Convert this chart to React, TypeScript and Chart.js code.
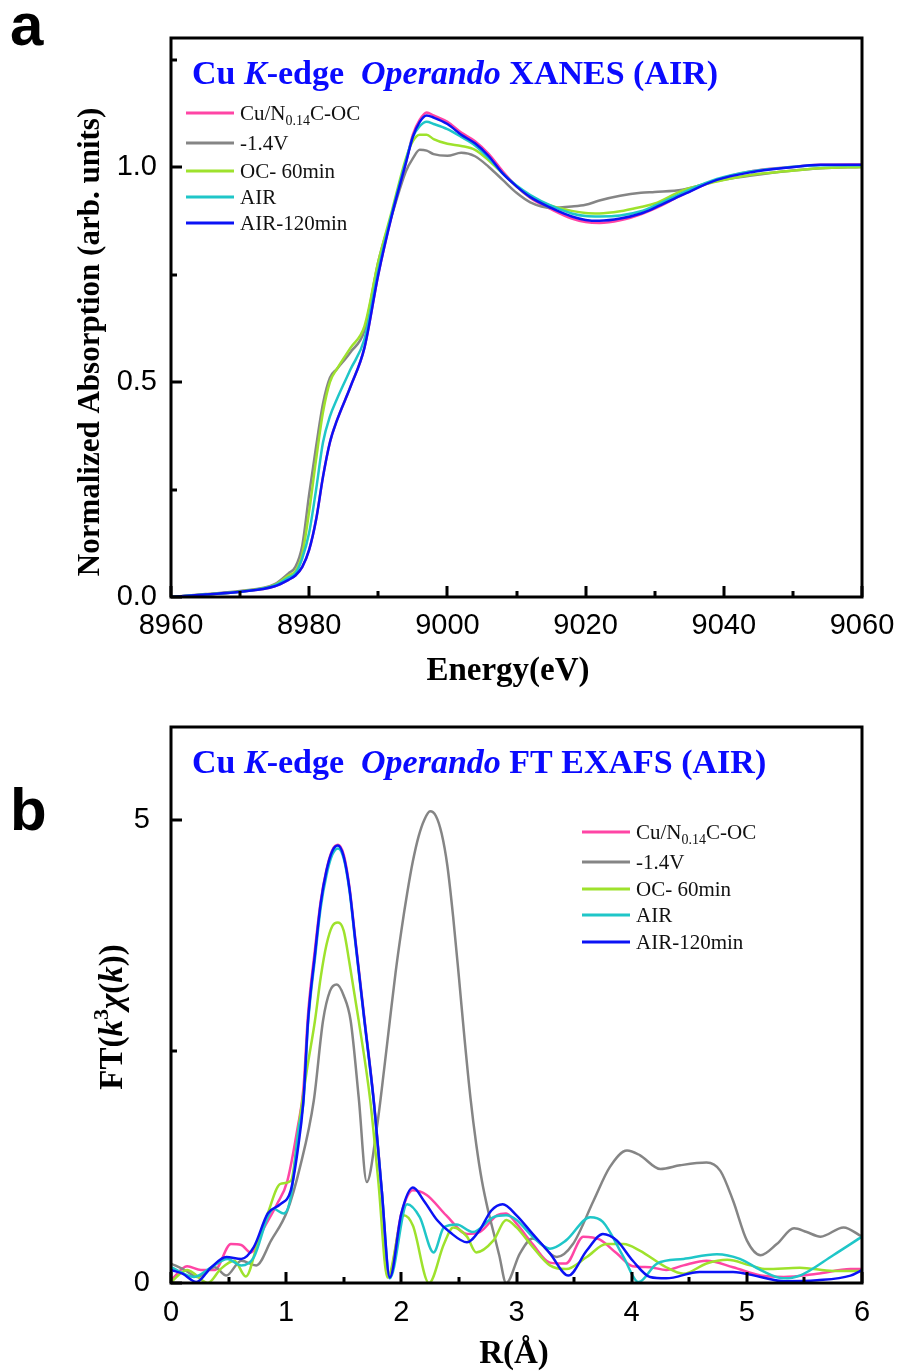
import React, { useEffect, useRef } from "react";
import { Chart, registerables } from "chart.js";

Chart.register(...registerables);

const SERIF = "'Liberation Serif', 'Times New Roman', serif";
const SANS = "'Liberation Sans', Arial, sans-serif";

const seriesNames = ["Cu/N0.14C-OC", "-1.4V", "OC- 60min", "AIR", "AIR-120min"];
const seriesColors = ["#ff45a5", "#858585", "#9ee22c", "#1fc6c8", "#0b12f5"];
const seriesOrder = [4, 3, 2, 1, 0];

// ---------- (a) XANES ----------
const xanesEnergy = [8960, 8965, 8970, 8975, 8977, 8978, 8979, 8980, 8981, 8982, 8983, 8984, 8986, 8988, 8990, 8992, 8994, 8995, 8996, 8997, 8998, 9000, 9002, 9004, 9006, 9008, 9010, 9012, 9015, 9018, 9020, 9022, 9025, 9028, 9030, 9034, 9039, 9044, 9049, 9054, 9060];
const xanesCuN = [0.0, 0.006, 0.012, 0.025, 0.04, 0.05, 0.07, 0.11, 0.18, 0.28, 0.36, 0.41, 0.49, 0.58, 0.75, 0.89, 1.01, 1.075, 1.11, 1.127, 1.12, 1.105, 1.08, 1.06, 1.03, 0.99, 0.955, 0.928, 0.902, 0.88, 0.872, 0.87, 0.876, 0.89, 0.903, 0.935, 0.97, 0.99, 0.999, 1.005, 1.006];
const xanesNeg14V = [0.0, 0.007, 0.014, 0.03, 0.055, 0.07, 0.12, 0.24, 0.35, 0.45, 0.51, 0.53, 0.57, 0.62, 0.78, 0.89, 0.99, 1.02, 1.04, 1.038, 1.03, 1.026, 1.033, 1.025, 1.0, 0.97, 0.94, 0.918, 0.905, 0.908, 0.912, 0.922, 0.933, 0.94, 0.942, 0.947, 0.968, 0.98, 0.99, 0.997, 1.0];
const xanesOC60 = [0.0, 0.006, 0.013, 0.028, 0.05, 0.06, 0.1, 0.2, 0.32, 0.43, 0.5, 0.53, 0.58, 0.63, 0.78, 0.9, 1.02, 1.06, 1.075, 1.075, 1.065, 1.054, 1.049, 1.04, 1.015, 0.985, 0.955, 0.93, 0.91, 0.898, 0.893, 0.892, 0.897, 0.907, 0.915, 0.945, 0.966, 0.982, 0.99, 0.997, 1.0];
const xanesAIR = [0.0, 0.006, 0.012, 0.027, 0.045, 0.055, 0.09, 0.15, 0.25, 0.36, 0.42, 0.46, 0.53, 0.6, 0.76, 0.895, 1.015, 1.07, 1.095, 1.105, 1.1, 1.088, 1.07, 1.05, 1.02, 0.985, 0.957, 0.935, 0.91, 0.892, 0.886, 0.885, 0.887, 0.897, 0.91, 0.94, 0.972, 0.99, 0.999, 1.004, 1.004];
const xanesAIR120 = [0.0, 0.006, 0.012, 0.025, 0.04, 0.05, 0.07, 0.11, 0.18, 0.28, 0.36, 0.41, 0.49, 0.58, 0.75, 0.89, 1.01, 1.07, 1.105, 1.12, 1.115, 1.1, 1.075, 1.055, 1.025, 0.985, 0.955, 0.93, 0.905, 0.885, 0.877, 0.875, 0.88, 0.892, 0.905, 0.935, 0.97, 0.988, 0.998, 1.005, 1.005];
const xanesXTicks = [8960, 8980, 9000, 9020, 9040, 9060];
const xanesXMinor = [8970, 8990, 9010, 9030, 9050];
const xanesYTicks = [0, 0.5, 1.0];
const xanesYMinor = [0.25, 0.75, 1.25];

// ---------- (b) FT-EXAFS ----------
const ftRCuN = [0, 0.14, 0.26, 0.38, 0.52, 0.61, 0.69, 0.81, 0.92, 1.01, 1.1, 1.15, 1.19, 1.25, 1.3, 1.35, 1.4, 1.45, 1.5, 1.55, 1.6, 1.68, 1.76, 1.83, 1.89, 2.0, 2.1, 2.22, 2.39, 2.57, 2.68, 2.83, 2.91, 3.0, 3.14, 3.29, 3.43, 3.58, 3.72, 3.87, 4.01, 4.16, 4.3, 4.45, 4.65, 4.88, 5.12, 5.32, 5.61, 5.9, 6.0];
const ftCuN = [0.03, 0.18, 0.14, 0.14, 0.42, 0.41, 0.33, 0.6, 0.85, 1.1, 1.68, 2.1, 2.9, 3.6, 4.12, 4.46, 4.67, 4.73, 4.62, 4.27, 3.72, 2.85, 1.98, 1.0, 0.06, 0.75, 1.0, 0.95, 0.73, 0.53, 0.55, 0.73, 0.75, 0.64, 0.42, 0.22, 0.21, 0.5, 0.47, 0.32, 0.18, 0.17, 0.14, 0.19, 0.24, 0.17, 0.08, 0.065, 0.1, 0.15, 0.15];
const ftRNeg14V = [0, 0.12, 0.23, 0.38, 0.48, 0.61, 0.74, 0.87, 1.01, 1.12, 1.24, 1.32, 1.38, 1.44, 1.5, 1.56, 1.63, 1.7, 1.79, 1.85, 1.9, 1.95, 2.0, 2.05, 2.1, 2.15, 2.2, 2.25, 2.3, 2.35, 2.4, 2.45, 2.5, 2.55, 2.6, 2.65, 2.7, 2.75, 2.8, 2.85, 2.91, 3.03, 3.14, 3.35, 3.49, 3.67, 3.81, 3.96, 4.07, 4.25, 4.42, 4.65, 4.77, 4.88, 5.0, 5.12, 5.26, 5.41, 5.52, 5.64, 5.84, 6.0];
const ftNeg14V = [0.21, 0.14, 0.065, 0.17, 0.08, 0.24, 0.19, 0.46, 0.78, 1.25, 1.97, 2.83, 3.15, 3.22, 3.1, 2.83, 2.0, 1.09, 1.7, 2.3, 2.83, 3.35, 3.8, 4.2, 4.55, 4.82, 5.0, 5.09, 5.04, 4.85, 4.5, 3.95, 3.3, 2.62, 2.0, 1.5, 1.1, 0.8, 0.55, 0.3, 0.0, 0.32, 0.48, 0.28, 0.42, 0.89, 1.25, 1.43, 1.38, 1.23, 1.27, 1.3, 1.21, 0.89, 0.46, 0.3, 0.42, 0.59, 0.55, 0.5, 0.6, 0.5];
const ftROC60 = [0, 0.14, 0.32, 0.43, 0.55, 0.65, 0.75, 0.84, 0.95, 1.04, 1.12, 1.18, 1.25, 1.3, 1.35, 1.4, 1.45, 1.5, 1.55, 1.63, 1.73, 1.8, 1.88, 2.02, 2.1, 2.24, 2.37, 2.45, 2.57, 2.65, 2.8, 2.91, 3.0, 3.14, 3.29, 3.43, 3.61, 3.78, 3.93, 4.07, 4.3, 4.45, 4.65, 4.83, 5.03, 5.17, 5.46, 5.75, 6.0];
const ftOC60 = [0.01, 0.14, 0.0, 0.15, 0.24, 0.07, 0.42, 0.75, 1.07, 1.1, 1.79, 2.3, 2.83, 3.3, 3.65, 3.85, 3.89, 3.8, 3.45, 2.83, 1.97, 1.1, 0.06, 0.73, 0.62, 0.0, 0.42, 0.6, 0.5, 0.33, 0.46, 0.68, 0.6, 0.39, 0.19, 0.15, 0.28, 0.42, 0.42, 0.35, 0.17, 0.1, 0.21, 0.25, 0.19, 0.15, 0.165, 0.13, 0.13];
const ftRAIR = [0, 0.2, 0.35, 0.49, 0.61, 0.72, 0.84, 0.89, 0.98, 1.04, 1.11, 1.15, 1.19, 1.25, 1.3, 1.35, 1.4, 1.45, 1.5, 1.55, 1.6, 1.68, 1.76, 1.83, 1.9, 2.05, 2.16, 2.28, 2.37, 2.48, 2.62, 2.8, 2.91, 3.0, 3.14, 3.29, 3.43, 3.64, 3.75, 3.93, 4.06, 4.22, 4.45, 4.74, 4.94, 5.12, 5.32, 5.46, 5.75, 6.0];
const ftAIR = [0.17, 0.065, 0.17, 0.26, 0.19, 0.28, 0.71, 0.8, 0.75, 0.93, 1.68, 1.95, 2.8, 3.5, 4.05, 4.4, 4.62, 4.69, 4.58, 4.23, 3.68, 2.82, 1.96, 1.0, 0.05, 0.85, 0.71, 0.33, 0.6, 0.63, 0.55, 0.71, 0.73, 0.68, 0.5, 0.37, 0.46, 0.71, 0.66, 0.28, 0.01, 0.21, 0.26, 0.31, 0.26, 0.14, 0.05, 0.08, 0.3, 0.5];
const ftRAIR120 = [0, 0.1, 0.22, 0.35, 0.48, 0.61, 0.72, 0.84, 0.95, 1.04, 1.1, 1.15, 1.19, 1.25, 1.3, 1.35, 1.4, 1.45, 1.5, 1.55, 1.6, 1.68, 1.76, 1.83, 1.9, 2.0, 2.1, 2.2, 2.31, 2.42, 2.57, 2.68, 2.78, 2.88, 3.0, 3.14, 3.29, 3.45, 3.61, 3.75, 3.87, 4.01, 4.16, 4.3, 4.59, 4.88, 5.12, 5.32, 5.61, 5.9, 6.0];
const ftAIR120 = [0.14, 0.1, 0.01, 0.17, 0.28, 0.26, 0.39, 0.75, 0.85, 1.0, 1.43, 1.97, 2.83, 3.55, 4.1, 4.45, 4.66, 4.72, 4.6, 4.25, 3.7, 2.83, 1.97, 1.0, 0.06, 0.75, 1.03, 0.88, 0.68, 0.55, 0.44, 0.57, 0.78, 0.85, 0.73, 0.53, 0.32, 0.08, 0.35, 0.53, 0.46, 0.24, 0.065, 0.05, 0.12, 0.12, 0.065, 0.02, 0.03, 0.08, 0.14];
const ftXTicks = [0, 1, 2, 3, 4, 5, 6];
const ftXMinor = [0.5, 1.5, 2.5, 3.5, 4.5, 5.5];
const ftYTicks = [0, 5];
const ftYMinor = [2.5];

type Seg = { t: string; f: string; dy?: number };

const B34 = `bold 34px ${SERIF}`;
const BI34 = `italic bold 34px ${SERIF}`;
const B33 = `bold 33px ${SERIF}`;
const BI33 = `italic bold 33px ${SERIF}`;
const B31 = `bold 31px ${SERIF}`;
const R21 = `21px ${SERIF}`;
const R14 = `14px ${SERIF}`;

function segsWidth(ctx: CanvasRenderingContext2D, segs: Seg[]) {
  let w = 0;
  for (const s of segs) {
    ctx.font = s.f;
    w += ctx.measureText(s.t).width;
  }
  return w;
}

function drawSegs(ctx: CanvasRenderingContext2D, segs: Seg[], x: number, y: number) {
  let cx = x;
  for (const s of segs) {
    ctx.font = s.f;
    ctx.fillText(s.t, cx, y + (s.dy || 0));
    cx += ctx.measureText(s.t).width;
  }
}

function legendSegs(name: string): Seg[] {
  if (name.startsWith("Cu/N")) {
    return [
      { t: "Cu/N", f: R21 },
      { t: "0.14", f: R14, dy: 5 },
      { t: "C-OC", f: R21 },
    ];
  }
  return [{ t: name, f: R21 }];
}

type DecorOpts = {
  letter: string;
  letterY: number;
  title: Seg[];
  titleX: number;
  titleY: number;
  legX: number;
  legRows: number[];
  xTitle: Seg[];
  xTitleCx: number;
  xTitleY: number;
  yTitle: Seg[];
  yTitleCx: number;
  yTitleCy: number;
  xMajor: number[];
  xMinor: number[];
  yMajor: number[];
  yMinor: number[];
};

function decorPlugin(o: DecorOpts) {
  return {
    id: "decor",
    afterDraw(chart: any) {
      const ctx: CanvasRenderingContext2D = chart.ctx;
      const a = chart.chartArea;
      const xs = chart.scales.x;
      const ys = chart.scales.y;
      ctx.save();
      ctx.strokeStyle = "#000";
      ctx.lineWidth = 3;
      ctx.strokeRect(a.left, a.top, a.right - a.left, a.bottom - a.top);
      ctx.beginPath();
      const tx = (v: number, len: number) => {
        const p = Math.round(xs.getPixelForValue(v));
        ctx.moveTo(p, a.bottom);
        ctx.lineTo(p, a.bottom - len);
      };
      const ty = (v: number, len: number) => {
        const p = Math.round(ys.getPixelForValue(v));
        ctx.moveTo(a.left, p);
        ctx.lineTo(a.left + len, p);
      };
      o.xMajor.forEach((v) => tx(v, 11));
      o.xMinor.forEach((v) => tx(v, 6));
      o.yMajor.forEach((v) => ty(v, 11));
      o.yMinor.forEach((v) => ty(v, 6));
      ctx.stroke();

      // panel letter
      ctx.fillStyle = "#000";
      ctx.textBaseline = "alphabetic";
      ctx.textAlign = "left";
      ctx.font = `bold 60px ${SANS}`;
      ctx.fillText(o.letter, 10, o.letterY);

      // title
      ctx.fillStyle = "#0a0aff";
      drawSegs(ctx, o.title, o.titleX, o.titleY);

      // legend
      chart.data.datasets.forEach((ds: any, i: number) => {
        const y = o.legRows[i];
        ctx.strokeStyle = ds.borderColor;
        ctx.lineWidth = 3;
        ctx.beginPath();
        ctx.moveTo(o.legX, y);
        ctx.lineTo(o.legX + 48, y);
        ctx.stroke();
        ctx.fillStyle = "#111";
        drawSegs(ctx, legendSegs(ds.label), o.legX + 54, y + 7);
      });

      // axis titles
      ctx.fillStyle = "#000";
      const xw = segsWidth(ctx, o.xTitle);
      drawSegs(ctx, o.xTitle, o.xTitleCx - xw / 2, o.xTitleY);
      ctx.save();
      ctx.translate(o.yTitleCx, o.yTitleCy);
      ctx.rotate(-Math.PI / 2);
      ctx.textBaseline = "middle";
      const yw = segsWidth(ctx, o.yTitle);
      drawSegs(ctx, o.yTitle, -yw / 2, 0);
      ctx.restore();
      ctx.restore();
    },
  };
}

function makeDatasets(xsList: number[][], ysList: number[][], width: number) {
  return ysList.map((ys, i) => ({
    label: seriesNames[i],
    data: ys.map((y, j) => ({ x: xsList[i][j], y })),
    borderColor: seriesColors[i],
    backgroundColor: seriesColors[i],
    borderWidth: width,
    pointRadius: 0,
    cubicInterpolationMode: "monotone" as const,
    fill: false,
    order: seriesOrder[i],
  }));
}

function baseScales(opts: {
  xMin: number; xMax: number; xStep: number; xFmt: (v: number) => string;
  yMin: number; yMax: number; yTicks: number[]; yFmt: (v: number) => string;
  yWidth: number; xHeight: number; yPad: number; xPad: number;
}) {
  return {
    x: {
      type: "linear",
      min: opts.xMin,
      max: opts.xMax,
      grid: { display: false },
      border: { display: false },
      ticks: {
        stepSize: opts.xStep,
        autoSkip: false,
        maxRotation: 0,
        padding: opts.xPad,
        color: "#000",
        font: { family: SANS, size: 29 },
        callback: (v: any) => opts.xFmt(Number(v)),
      },
      afterFit: (s: any) => {
        s.height = opts.xHeight;
      },
    },
    y: {
      type: "linear",
      min: opts.yMin,
      max: opts.yMax,
      grid: { display: false },
      border: { display: false },
      afterBuildTicks: (s: any) => {
        s.ticks = opts.yTicks.map((v) => ({ value: v }));
      },
      ticks: {
        autoSkip: false,
        padding: opts.yPad,
        color: "#000",
        font: { family: SANS, size: 29 },
        callback: (v: any) => opts.yFmt(Number(v)),
      },
      afterFit: (s: any) => {
        s.width = opts.yWidth;
      },
    },
  };
}

function ChartCanvas({ config, width, height, top }: { config: any; width: number; height: number; top: number }) {
  const ref = useRef<HTMLCanvasElement | null>(null);
  useEffect(() => {
    if (!ref.current) return;
    const chart = new Chart(ref.current, config);
    return () => chart.destroy();
  }, [config]);
  return (
    <canvas
      ref={ref}
      width={width}
      height={height}
      style={{ position: "absolute", left: 0, top, width, height, display: "block" }}
    />
  );
}

const configA = {
  type: "line",
  data: {
    datasets: makeDatasets(
      [xanesEnergy, xanesEnergy, xanesEnergy, xanesEnergy, xanesEnergy],
      [xanesCuN, xanesNeg14V, xanesOC60, xanesAIR, xanesAIR120],
      2.5
    ),
  },
  options: {
    responsive: false,
    animation: false,
    devicePixelRatio: 1,
    layout: { padding: { left: 0, top: 38, right: 40, bottom: 0 } },
    plugins: { legend: { display: false }, tooltip: { enabled: false } },
    scales: baseScales({
      xMin: 8960, xMax: 9060, xStep: 20, xFmt: (v) => String(Math.round(v)),
      yMin: 0, yMax: 1.3, yTicks: xanesYTicks, yFmt: (v) => v.toFixed(1),
      yWidth: 171, xHeight: 93, yPad: 6, xPad: 4,
    }),
  },
  plugins: [
    decorPlugin({
      letter: "a",
      letterY: 45,
      title: [
        { t: "Cu ", f: B34 },
        { t: "K", f: BI34 },
        { t: "-edge  ", f: B34 },
        { t: "Operando", f: BI34 },
        { t: " XANES (AIR)", f: B34 },
      ],
      titleX: 192,
      titleY: 84,
      legX: 186,
      legRows: [113, 143, 171, 197, 223],
      xTitle: [{ t: "Energy(eV)", f: B33 }],
      xTitleCx: 508,
      xTitleY: 680,
      yTitle: [{ t: "Normalized Absorption (arb. units)", f: B31 }],
      yTitleCx: 91,
      yTitleCy: 342,
      xMajor: xanesXTicks,
      xMinor: xanesXMinor,
      yMajor: xanesYTicks,
      yMinor: xanesYMinor,
    }),
  ],
};

const configB = {
  type: "line",
  data: {
    datasets: makeDatasets(
      [ftRCuN, ftRNeg14V, ftROC60, ftRAIR, ftRAIR120],
      [ftCuN, ftNeg14V, ftOC60, ftAIR, ftAIR120],
      2.5
    ),
  },
  options: {
    responsive: false,
    animation: false,
    devicePixelRatio: 1,
    layout: { padding: { left: 0, top: 37, right: 40, bottom: 0 } },
    plugins: { legend: { display: false }, tooltip: { enabled: false } },
    scales: baseScales({
      xMin: 0, xMax: 6, xStep: 1, xFmt: (v) => String(Math.round(v)),
      yMin: 0, yMax: 6, yTicks: ftYTicks, yFmt: (v) => String(Math.round(v)),
      yWidth: 171, xHeight: 88, yPad: 13, xPad: 5,
    }),
  },
  plugins: [
    decorPlugin({
      letter: "b",
      letterY: 140,
      title: [
        { t: "Cu ", f: B34 },
        { t: "K", f: BI34 },
        { t: "-edge  ", f: B34 },
        { t: "Operando", f: BI34 },
        { t: " FT EXAFS (AIR)", f: B34 },
      ],
      titleX: 192,
      titleY: 83,
      legX: 582,
      legRows: [142, 172, 199, 225, 252],
      xTitle: [{ t: "R(Å)", f: B33 }],
      xTitleCx: 514,
      xTitleY: 673,
      yTitle: [
        { t: "FT(", f: B33 },
        { t: "k", f: BI33 },
        { t: "3", f: `bold 22px ${SERIF}`, dy: -11 },
        { t: "χ", f: BI33 },
        { t: "(", f: B33 },
        { t: "k", f: BI33 },
        { t: "))", f: B33 },
      ],
      yTitleCx: 113,
      yTitleCy: 327,
      xMajor: ftXTicks,
      xMinor: ftXMinor,
      yMajor: ftYTicks,
      yMinor: ftYMinor,
    }),
  ],
};

export default function App() {
  return (
    <div style={{ position: "absolute", left: 0, top: 0, width: 902, height: 1371, background: "#fff" }}>
      <ChartCanvas config={configA} width={902} height={690} top={0} />
      <ChartCanvas config={configB} width={902} height={681} top={690} />
    </div>
  );
}
